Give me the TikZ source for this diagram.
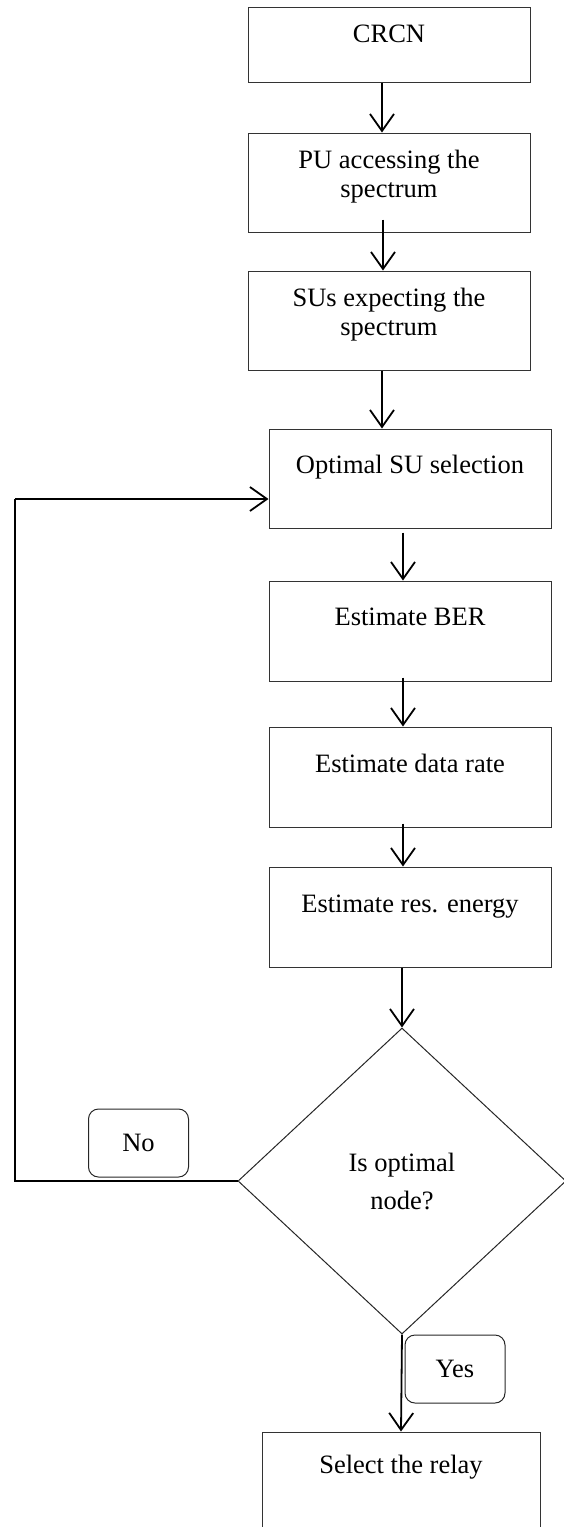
\documentclass[tikz,border=0pt]{standalone}
\usepackage{fontspec}
\setmainfont{Liberation Serif}
\usetikzlibrary{arrows.meta,shapes.geometric}
\newcommand\boxtxt[5]{\parbox[c][#2][t]{#1}{\centering\baselineskip=#4\rule{0pt}{#3}#5\par}}
\begin{document}
\begin{tikzpicture}[x=1pt,y=-1pt,
  font=\fontsize{26.5pt}{30pt}\selectfont,
  stepbox/.style={draw=black!80, line width=1pt, inner sep=0pt},
  tagbox/.style={draw=black!85, line width=1pt, rounded corners=10pt, inner sep=0pt, minimum width=100pt, minimum height=68pt},
  decision/.style={draw=black!85, line width=1pt, diamond, inner sep=0pt, minimum width=328pt, minimum height=306pt},
  arr/.style={line width=1.8pt, -{Straight Barb[length=17pt,width=24pt]}},
  link/.style={line width=1.8pt}]
\useasboundingbox (0,0) rectangle (563,1527);
\node[stepbox] (b1) at (389,44.5) {\boxtxt{282pt}{75pt}{35pt}{29pt}{CRCN}};
\node[stepbox] (b2) at (389,182.5) {\boxtxt{282pt}{99pt}{35pt}{29pt}{PU accessing the\\spectrum}};
\node[stepbox] (b3) at (389,320.5) {\boxtxt{282pt}{99pt}{35pt}{29pt}{SUs expecting the\\spectrum}};
\node[stepbox] (b4) at (410,478.5) {\boxtxt{282pt}{99pt}{44pt}{29pt}{Optimal SU selection}};
\node[stepbox] (b5) at (410,631) {\boxtxt{282pt}{100pt}{44pt}{29pt}{Estimate BER}};
\node[stepbox] (b6) at (410,777) {\boxtxt{282pt}{100pt}{45pt}{29pt}{Estimate data rate}};
\node[stepbox] (b7) at (410,917) {\boxtxt{282pt}{100pt}{45pt}{29pt}{Estimate res. energy}};
\node[decision] (d) at (402,1181) {\boxtxt{150pt}{80pt}{30pt}{38pt}{Is optimal\\node?}};
\node[stepbox] (fin) at (401,1481) {\boxtxt{278pt}{98pt}{41pt}{29pt}{Select the relay}};
\node[tagbox] (no) at (138.5,1143) {No};
\node[tagbox] (yes) at (455,1369) {Yes};
\coordinate (fb) at (15,499);
\draw[arr] ([xshift=-7pt]b1.south) -- ([xshift=-7pt]b2.north);
\draw[arr] ([xshift=-6pt,yshift=13pt]b2.south) -- ([xshift=-6pt]b3.north);
\draw[arr] ([xshift=-7pt]b3.south) -- ([xshift=-28pt]b4.north);
\draw[arr] ([xshift=-7pt,yshift=-4pt]b4.south) -- ([xshift=-7pt]b5.north);
\draw[arr] ([xshift=-7pt,yshift=4pt]b5.south) -- ([xshift=-7pt]b6.north);
\draw[arr] ([xshift=-7pt,yshift=4pt]b6.south) -- ([xshift=-7pt]b7.north);
\draw[arr] ([xshift=-8pt]b7.south) -- (d.north);
\draw[arr] (d.south) -- (fin.north);
\draw[link] (d.west) -| (fb);
\draw[arr] (fb) -- (fb -| b4.west);
\end{tikzpicture}
\end{document}
